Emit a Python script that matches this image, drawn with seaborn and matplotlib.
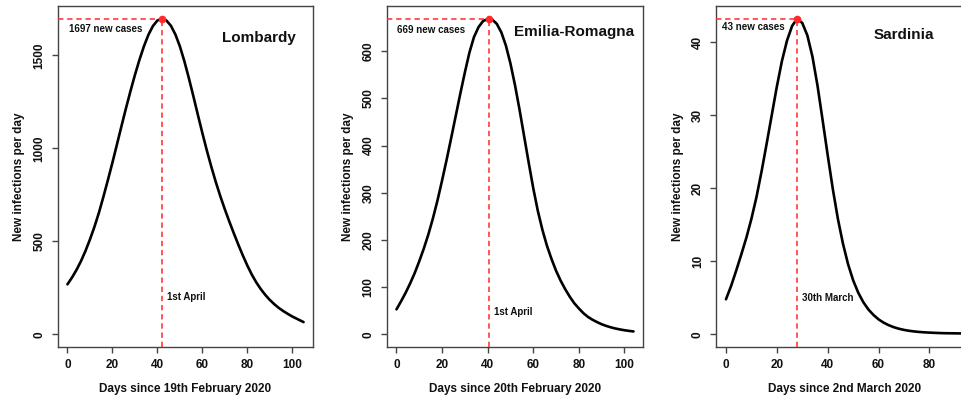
import matplotlib
matplotlib.use("Agg")
import matplotlib.pyplot as plt
import seaborn as sns
import pandas as pd

# ---------------- data ----------------
lomb_days = [0, 2, 4, 6, 8, 10, 12, 14, 16, 18, 20, 22, 24, 26, 28, 30, 32, 34, 36, 38,
             40, 42, 44, 46, 48, 50, 52, 54, 56, 58, 60, 62, 64, 66, 68, 70, 72, 74, 76,
             78, 80, 82, 84, 86, 88, 90, 92, 94, 96, 98, 100, 102, 104, 105]
lomb_cases = [269, 305, 346, 393, 448, 510, 578, 654, 740, 830, 923, 1020, 1118, 1214,
              1306, 1394, 1475, 1548, 1610, 1657, 1687, 1697, 1687, 1659, 1612, 1548,
              1468, 1377, 1280, 1180, 1082, 988, 900, 818, 742, 672, 606, 543, 482, 424,
              370, 321, 279, 243, 212, 185, 162, 142, 125, 110, 96, 84, 72, 66]

emil_days = [0, 2, 4, 6, 8, 10, 12, 14, 16, 18, 20, 22, 24, 26, 28, 30, 32, 34, 36, 38,
             40.6, 42, 44, 46, 48, 50, 52, 54, 56, 58, 60, 62, 64, 66, 68, 70, 72, 74, 76,
             78, 80, 82, 84, 86, 88, 90, 92, 94, 96, 98, 100, 102, 104]
emil_cases = [53, 70, 88, 108, 130, 155, 182, 212, 246, 284, 326, 370, 416, 463, 510,
              555, 597, 630, 651, 664, 669, 667, 658, 640, 612, 574, 528, 476, 420, 364,
              310, 262, 222, 188, 160, 135, 114, 96, 80, 66, 55, 45, 37, 31, 26, 21.5,
              18, 15, 12.5, 10.5, 8.8, 7.4, 6.2]

sard_days = [0, 2, 4, 6, 8, 10, 12, 14, 16, 18, 20, 22, 24, 26, 28, 30, 32, 34, 36, 38,
             40, 42, 44, 46, 48, 50, 52, 54, 56, 58, 60, 62, 64, 66, 68, 70, 72, 74, 76,
             78, 80, 82, 84, 86, 88, 90, 92, 93]
sard_cases = [4.8, 6.6, 8.7, 10.9, 13.2, 15.8, 18.8, 22.3, 26.1, 30.0, 33.9, 37.4, 40.2,
              42.2, 43.2, 42.6, 40.9, 38.0, 34.0, 29.3, 24.5, 19.9, 15.8, 12.4, 9.6, 7.4,
              5.7, 4.4, 3.4, 2.65, 2.05, 1.6, 1.25, 0.98, 0.77, 0.61, 0.49, 0.4, 0.33,
              0.28, 0.24, 0.21, 0.18, 0.16, 0.15, 0.14, 0.13, 0.13]

regions = ["Lombardy", "Emilia-Romagna", "Sardinia"]
peak_days = [42, 40.6, 28]
peak_values = [1697, 669, 43.2]
peak_labels = ["1697 new cases", "669 new cases", "43 new cases"]
date_labels = ["1st April", "1st April", "30th March"]
x_labels = ["Days since 19th February 2020", "Days since 20th February 2020",
            "Days since 2nd March 2020"]
y_label = "New infections per day"
x_ticks = [[0, 20, 40, 60, 80, 100], [0, 20, 40, 60, 80, 100], [0, 20, 40, 60, 80]]
y_ticks = [[0, 500, 1000, 1500], [0, 100, 200, 300, 400, 500, 600], [0, 10, 20, 30, 40]]

series = [(lomb_days, lomb_cases), (emil_days, emil_cases), (sard_days, sard_cases)]

# ---------------- style ----------------
sns.set_theme(style="ticks")
plt.rcParams["font.family"] = ["Liberation Sans", "DejaVu Sans"]
plt.rcParams["font.weight"] = "bold"
plt.rcParams["axes.labelweight"] = "bold"

W, H = 962, 401
fig = plt.figure(figsize=(W / 100, H / 100), dpi=100)
fig.patch.set_facecolor("white")

panel_px = [(58, 313), (387, 643), (716.5, 972)]
top_px, bot_px = 6, 347

# layout of in-plot texts (axes fractions)
title_pos = [(0.788, 0.907), (0.73, 0.925), (0.734, 0.915)]
peak_lab_pos = [(0.043, 0.933), (0.038, 0.93), (0.023, 0.9375)]
date_lab_y = [0.1475, 0.1035, 0.143]

frame_col = "#444444"
red = "#ff2a2a"
txt_col = "#111111"

for i, (days, cases) in enumerate(series):
    l, r = panel_px[i]
    ax = fig.add_axes([l / W, (H - bot_px) / H, (r - l) / W, (bot_px - top_px) / H])
    df = pd.DataFrame({"day": days, "cases": cases})
    sns.lineplot(data=df, x="day", y="cases", ax=ax, color="black", linewidth=1.9)

    xmax = max(days)
    ymax = peak_values[i]
    x0, x1 = -0.04 * xmax, xmax * 1.04
    y0, y1 = -0.04 * ymax, ymax * 1.04
    ax.set_xlim(x0, x1)
    ax.set_ylim(y0, y1)

    pdx, pv = peak_days[i], peak_values[i]
    ax.hlines(pv, x0, pdx, colors=red, linestyles=(0, (3.5, 2.5)), linewidth=1.1, zorder=3)
    ax.vlines(pdx, y0, pv, colors=red, linestyles=(0, (3.5, 2.5)), linewidth=1.1, zorder=3)
    ax.plot([pdx], [pv], "o", color=red, markersize=4.5, zorder=4)

    ax.text(*title_pos[i], regions[i], transform=ax.transAxes, ha="center", va="center",
            fontsize=11, fontweight="bold", color=txt_col)
    ax.text(*peak_lab_pos[i], peak_labels[i], transform=ax.transAxes, ha="left",
            va="center", fontsize=7, fontweight="bold", color=txt_col)
    ax.annotate(date_labels[i], xy=(pdx, date_lab_y[i]),
                xycoords=("data", "axes fraction"), xytext=(3.5, 0),
                textcoords="offset points", ha="left", va="center",
                fontsize=7, fontweight="bold", color=txt_col)

    ax.set_xticks(x_ticks[i])
    ax.set_yticks(y_ticks[i])
    ax.set_xticklabels([str(t) for t in x_ticks[i]])
    ax.set_yticklabels([str(t) for t in y_ticks[i]], rotation=90, va="center")
    ax.tick_params(direction="out", length=4.5, width=1, color=frame_col,
                   labelsize=8.5, pad=4.5, labelcolor=txt_col)
    for s in ax.spines.values():
        s.set_visible(True)
        s.set_color(frame_col)
        s.set_linewidth(1)

    ax.set_xlabel(x_labels[i], fontsize=8.5, fontweight="bold", labelpad=8.5,
                  color=txt_col)
    ax.set_ylabel(y_label, fontsize=8.5, fontweight="bold", labelpad=6,
                  color=txt_col)
    ax.set_facecolor("white")

fig.savefig("out.png", dpi=100, facecolor="white")
